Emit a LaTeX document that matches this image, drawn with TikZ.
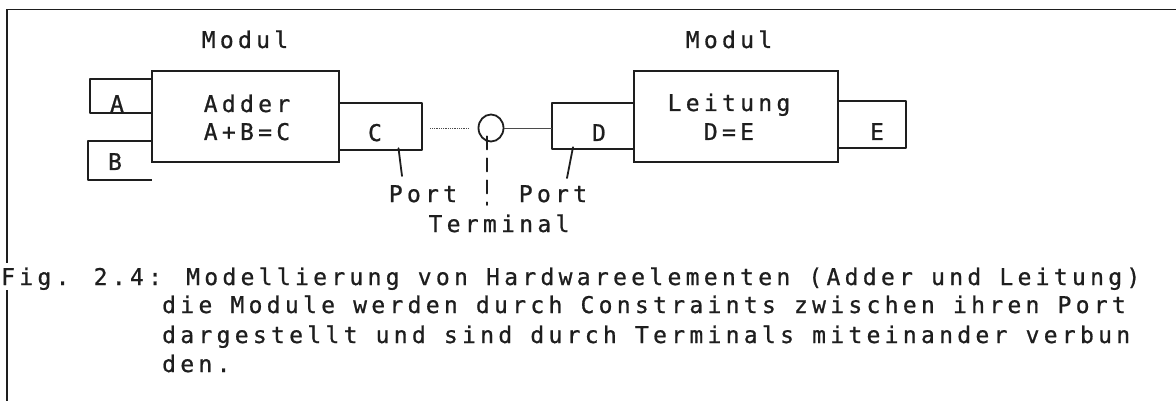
\documentclass[tikz,border=0pt]{standalone}
\usepackage{fontspec}
\usetikzlibrary{shapes.geometric}
\newfontfamily\tw{DejaVu Sans Mono}[LetterSpace=18.7,FakeBold=0.8]
\newcommand\twfont{\tw\fontsize{23}{23}\selectfont\spaceskip=18.15pt\relax}
\definecolor{ink}{HTML}{1E1E1E}
\begin{document}
\begin{tikzpicture}[x=1pt,y=-1pt,
  txt/.style={font=\twfont, text=ink, inner sep=0pt, anchor=base},
  capline/.style={txt, anchor=base west},
  modbox/.style={draw=ink, line width=1.6pt, fill=white, inner sep=0pt},
  portbox/.style={draw=none, inner sep=0pt},
  edge/.style={draw=ink, line width=1.6pt, line join=round},
  wire/.style={draw=ink!80, line width=0.8pt},
  tickline/.style={draw=ink, line width=1.8pt, line cap=round},
  frame/.style={draw=ink, line width=1.4pt}
]
\useasboundingbox (0,0) rectangle (1176,401);
\fill[white] (0,0) rectangle (1176,401);

% frame
\coordinate (f0) at (1176,9.5);
\coordinate (f1) at (7,9.5);
\coordinate (f2) at (7,263);
\coordinate (f3) at (7,290);
\coordinate (f4) at (7,401);
\draw[frame] (f0) -- (f1) -- (f2);
\draw[frame] (f3) -- (f4);

% ports (outline nodes)
\node[portbox, minimum width=62pt, minimum height=34pt] (pA) at (121,96) {};
\node[portbox, minimum width=64pt, minimum height=39pt] (pB) at (120,160.5) {};
\node[portbox, minimum width=83pt, minimum height=47pt] (pC) at (380.5,126.5) {};
\node[portbox, minimum width=82pt, minimum height=46pt] (pD) at (593,126) {};
\node[portbox, minimum width=68pt, minimum height=47pt] (pE) at (872,124.5) {};
\draw[edge] (pA.north east) -- (pA.north west) -- (pA.south west) -- (pA.south east);
\draw[edge] (pB.north east) -- (pB.north west) -- (pB.south west) -- (pB.south east);
\draw[edge] (pC.north west) -- (pC.north east) -- (pC.south east) -- (pC.south west);
\draw[edge] (pD.north east) -- (pD.north west) -- (pD.south west) -- (pD.south east);
\draw[edge] (pE.north west) -- (pE.north east) -- (pE.south east) -- (pE.south west);

% modules
\node[modbox, minimum width=187pt, minimum height=91pt] (adder) at (245.5,116.5) {};
\node[modbox, minimum width=204pt, minimum height=91pt] (leitung) at (736,116.5) {};

% terminal
\node[draw=ink, line width=1.8pt, ellipse, minimum width=25pt, minimum height=27pt, inner sep=0pt] (term) at (491,128) {};

% wires
\draw[wire, densely dotted, shorten <=8pt, shorten >=8pt] (pC.east |- term.west) -- (term.west);
\draw[wire] (term.east) -- (pD.west |- term.east);

% labels
\node[txt] (modL) at (245,48) {Modul};
\node[txt] (modR) at (729,48) {Modul};
\node[txt] (tAdd) at (247,112) {Adder};
\node[txt] (tAdd2) at (247,140) {A+B=C};
\node[txt] (tLei) at (729,111) {Leitung};
\node[txt] (tLei2) at (729,140) {D=E};
\node[txt] (tA) at (117,112) {A};
\node[txt] (tB) at (115,170) {B};
\node[txt] (tC) at (375,141) {C};
\node[txt] (tD) at (599,141) {D};
\node[txt] (tE) at (877,140) {E};
\node[txt] (portL) at (423,202) {Port};
\node[txt] (portR) at (553,202) {Port};
\node[txt] (termL) at (499,232) {Terminal};

% pointer ticks
\coordinate (kC) at (402,176);
\coordinate (kD) at (567,178);
\coordinate (kT) at (487,205);
\draw[tickline] ([xshift=18pt,yshift=2pt]pC.south) -- (kC);
\draw[tickline] ([xshift=-20pt,yshift=2pt]pD.south) -- (kD);
\draw[tickline, dash pattern=on 13pt off 9pt] ([xshift=-4pt,yshift=6pt]term.south) -- (kT);

% caption
\node[capline] (c1) at (1,285) {Fig. 2.4: Modellierung von Hardwareelementen (Adder und Leitung)};
\node[capline] (c2) at (162,313) {die Module werden durch Constraints zwischen ihren Port};
\node[capline] (c3) at (162,343) {dargestellt und sind durch Terminals miteinander verbun};
\node[capline] (c4) at (162,372) {den.};
\end{tikzpicture}
\end{document}
